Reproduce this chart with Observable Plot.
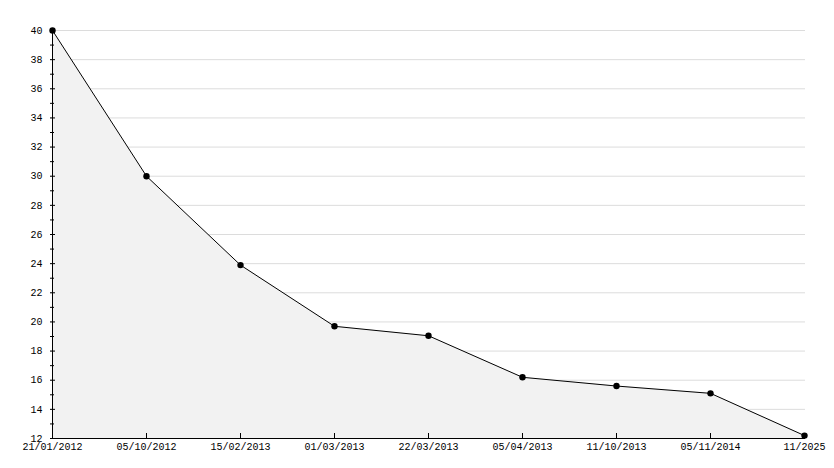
<!DOCTYPE html>
<html>
<head>
<meta charset="utf-8">
<script src="https://cdn.jsdelivr.net/npm/d3@7"></script>
<script src="https://cdn.jsdelivr.net/npm/@observablehq/plot@0.6"></script>
<style>
  html, body { margin: 0; padding: 0; background: #fff; }
  #chart svg { display: block; }
</style>
</head>
<body>
<div id="chart"></div>
<script>
const dates = ["21/01/2012", "05/10/2012", "15/02/2013", "01/03/2013", "22/03/2013", "05/04/2013", "11/10/2013", "05/11/2014", "11/2025"];
const values = [40, 30, 23.9, 19.7, 19.05, 16.2, 15.6, 15.1, 12.2];
const majorTicks = [12, 14, 16, 18, 20, 22, 24, 26, 28, 30, 32, 34, 36, 38, 40];
const minorTicks = [13, 15, 17, 19, 21, 23, 25, 27, 29, 31, 33, 35, 37, 39];
const gridLines = [14, 16, 18, 20, 22, 24, 26, 28, 30, 32, 34, 36, 38, 40];

const data = dates.map((d, i) => ({date: d, value: values[i]}));

const chart = Plot.plot({
  width: 834,
  height: 468,
  marginLeft: 50,
  marginRight: 29,
  marginTop: 30,
  marginBottom: 30,
  style: {fontFamily: "'Liberation Mono', 'DejaVu Sans Mono', monospace", fontSize: "10px", color: "#000", background: "#fff"},
  x: {type: "point", domain: dates, padding: 0},
  y: {domain: [12, 40]},
  marks: [
    Plot.ruleY(gridLines, {stroke: "#dcdcdc", strokeWidth: 1}),
    Plot.areaY(data, {x: "date", y1: 12, y2: "value", fill: "#f2f2f2"}),
    Plot.line(data, {x: "date", y: "value", stroke: "#000", strokeWidth: 1}),
    Plot.ruleY([12], {stroke: "#000", strokeWidth: 1}),
    Plot.ruleX([dates[0]], {y1: 12, y2: 40, stroke: "#000", strokeWidth: 1}),
    Plot.axisY({ticks: majorTicks, tickSize: 0, tickPadding: 8, tickFormat: d => String(d), label: null}),
    Plot.axisY({ticks: majorTicks, tickSize: -5, text: null, label: null}),
    Plot.axisY({ticks: minorTicks, tickSize: -4, text: null, label: null}),
    Plot.axisX({tickSize: 0, tickPadding: 4, label: null}),
    Plot.axisX({tickSize: -5, text: null, label: null}),
    Plot.dot(data, {x: "date", y: "value", r: 3.2, fill: "#000", stroke: "none"})
  ]
});
document.getElementById("chart").appendChild(chart);
</script>
</body>
</html>
